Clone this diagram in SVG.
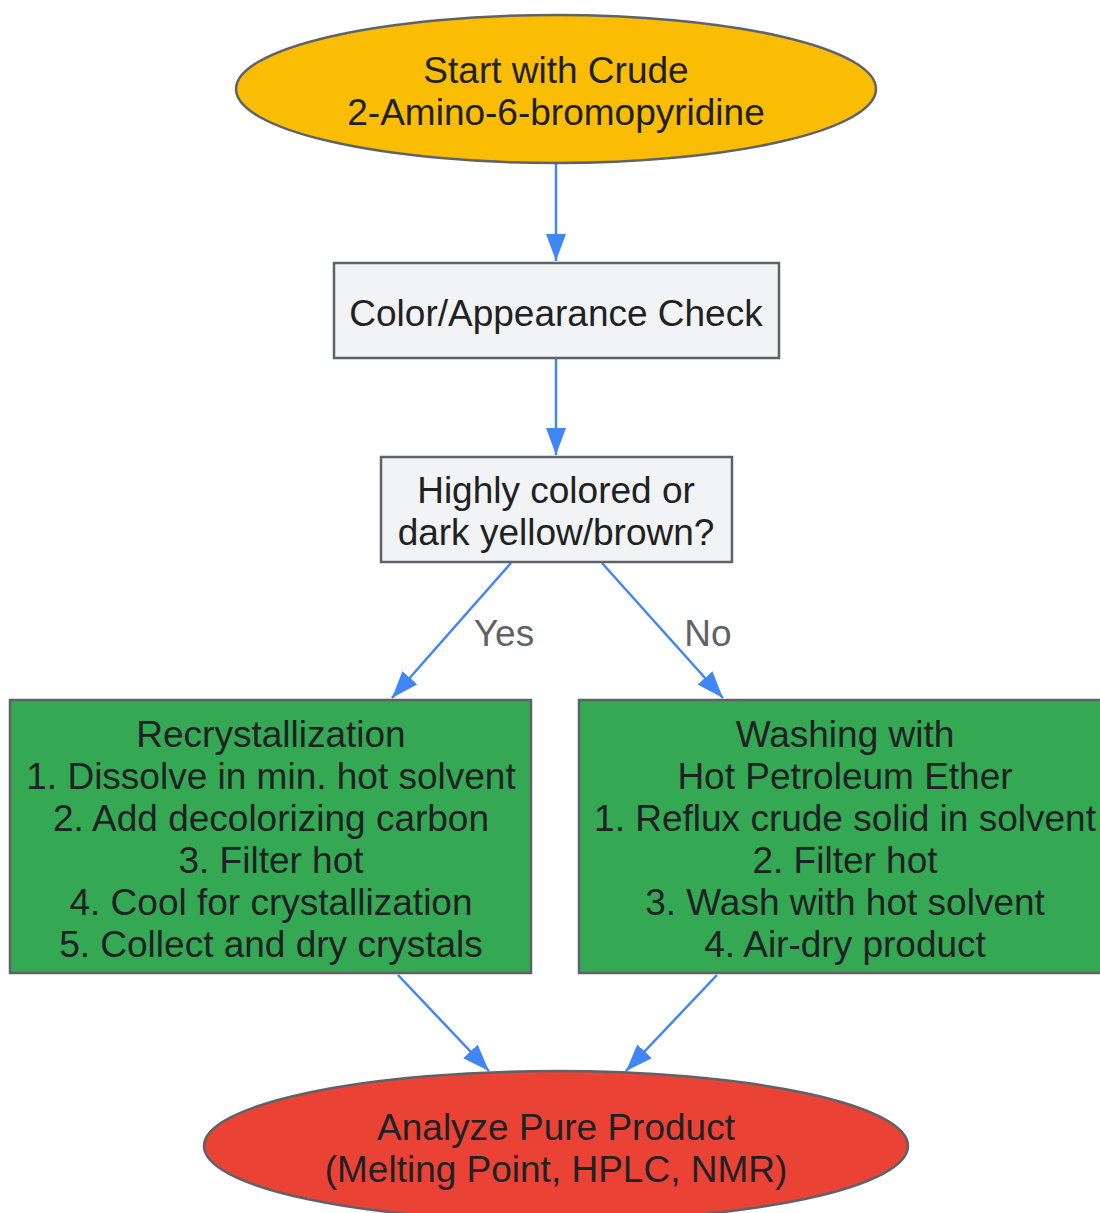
<svg xmlns="http://www.w3.org/2000/svg" width="1100" height="1213" viewBox="0 0 1100 1213">
<defs>
<style>
.n{stroke:#5f6368;stroke-width:2.5}
.t{font-family:"Liberation Sans",Arial,sans-serif;font-size:37px;fill:#202124;text-anchor:middle}
.e{stroke:#4285F4;stroke-width:2.5;fill:none}
.l{font-family:"Liberation Sans",Arial,sans-serif;font-size:37px;fill:#5f6368;text-anchor:middle}
</style>
<marker id="a" markerUnits="userSpaceOnUse" markerWidth="30" markerHeight="22" refX="27" refY="10" orient="auto">
<path d="M0,0 L27,10 L0,20 z" fill="#4285F4"/>
</marker>
</defs>
<rect width="1100" height="1213" fill="#ffffff"/>
<g id="edges">
<line class="e" x1="556" y1="164" x2="556" y2="261" marker-end="url(#a)"/>
<line class="e" x1="556" y1="359" x2="556" y2="455" marker-end="url(#a)"/>
<line class="e" x1="511" y1="563" x2="392" y2="698" marker-end="url(#a)"/>
<line class="e" x1="602" y1="563" x2="723" y2="698" marker-end="url(#a)"/>
<line class="e" x1="398" y1="975" x2="489" y2="1071" marker-end="url(#a)"/>
<line class="e" x1="717" y1="975" x2="626" y2="1071" marker-end="url(#a)"/>
<text class="l" x="504" y="646">Yes</text>
<text class="l" x="708" y="646">No</text>
</g>
<g id="start">
<ellipse class="n" cx="556" cy="89" rx="320" ry="74" fill="#FBBC04"/>
<text class="t" x="556" y="83">Start with Crude</text>
<text class="t" x="556" y="125">2-Amino-6-bromopyridine</text>
</g>
<g id="check">
<rect class="n" x="334" y="263" width="445" height="95" fill="#F1F3F4"/>
<text class="t" x="556" y="326">Color/Appearance Check</text>
</g>
<g id="decision">
<rect class="n" x="381" y="457" width="351" height="105" fill="#F1F3F4"/>
<text class="t" x="556" y="503">Highly colored or</text>
<text class="t" x="556" y="545">dark yellow/brown?</text>
</g>
<g id="recryst">
<rect class="n" x="10" y="700" width="521" height="273" fill="#34A853"/>
<text class="t" x="271" y="747">Recrystallization</text>
<text class="t" x="271" y="789">1. Dissolve in min. hot solvent</text>
<text class="t" x="271" y="831">2. Add decolorizing carbon</text>
<text class="t" x="271" y="873">3. Filter hot</text>
<text class="t" x="271" y="915">4. Cool for crystallization</text>
<text class="t" x="271" y="957">5. Collect and dry crystals</text>
</g>
<g id="wash">
<rect class="n" x="579" y="700" width="532" height="273" fill="#34A853"/>
<text class="t" x="845" y="747">Washing with</text>
<text class="t" x="845" y="789">Hot Petroleum Ether</text>
<text class="t" x="845" y="831">1. Reflux crude solid in solvent</text>
<text class="t" x="845" y="873">2. Filter hot</text>
<text class="t" x="845" y="915">3. Wash with hot solvent</text>
<text class="t" x="845" y="957">4. Air-dry product</text>
</g>
<g id="analyze">
<ellipse class="n" cx="556" cy="1146" rx="352" ry="75" fill="#EA4335"/>
<text class="t" x="556" y="1140">Analyze Pure Product</text>
<text class="t" x="556" y="1182">(Melting Point, HPLC, NMR)</text>
</g>
</svg>
